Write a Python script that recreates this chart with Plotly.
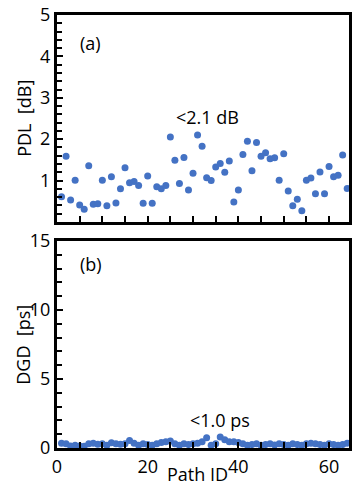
import plotly.graph_objects as go
from plotly.subplots import make_subplots

path_id = list(range(1, 65))
pdl = [0.61, 1.59, 0.53, 1.01, 0.41, 0.31, 1.36, 0.43, 0.44, 1.01,
       0.39, 1.09, 0.46, 0.80, 1.31, 0.95, 0.98, 0.88, 0.45, 1.11,
       0.45, 0.85, 0.80, 0.88, 2.05, 1.49, 0.93, 1.56, 0.77, 1.18,
       2.10, 1.83, 1.07, 1.00, 1.33, 1.41, 1.20, 1.47, 0.48, 0.77,
       1.63, 1.95, 1.24, 1.92, 1.59, 1.67, 1.53, 1.55, 1.01, 1.65,
       0.75, 0.39, 0.55, 0.27, 1.01, 1.06, 0.68, 1.21, 0.68, 1.34,
       1.09, 1.13, 1.62, 0.81]
dgd = [0.35, 0.30, 0.15, 0.20, 0.15, 0.12, 0.30, 0.35, 0.28, 0.30,
       0.20, 0.38, 0.30, 0.28, 0.30, 0.55, 0.35, 0.20, 0.30, 0.25,
       0.20, 0.30, 0.40, 0.45, 0.50, 0.30, 0.20, 0.30, 0.25, 0.30,
       0.35, 0.45, 0.75, 0.20, 0.30, 0.80, 0.60, 0.45, 0.45, 0.40,
       0.30, 0.20, 0.25, 0.30, 0.20, 0.25, 0.30, 0.22, 0.30, 0.25,
       0.20, 0.30, 0.25, 0.20, 0.30, 0.35, 0.30, 0.25, 0.20, 0.30,
       0.25, 0.20, 0.25, 0.35]

x_ticks = [0, 20, 40, 60]
pdl_ticks = [1, 2, 3, 4, 5]
dgd_ticks = [0, 5, 10, 15]

FONT = "Open Sans"
BLUE = "#4472C4"

fig = make_subplots(rows=2, cols=1, vertical_spacing=0.044)
fig.add_trace(go.Scatter(x=path_id, y=pdl, mode="markers",
                         marker=dict(color=BLUE, size=7)), row=1, col=1)
fig.add_trace(go.Scatter(x=path_id, y=dgd, mode="markers",
                         marker=dict(color=BLUE, size=7)), row=2, col=1)

axis_common = dict(showline=True, linecolor="black", linewidth=3, mirror=True,
                   showgrid=False, zeroline=False, ticks="inside", ticklen=6,
                   tickwidth=2, tickcolor="black",
                   tickfont=dict(family=FONT, size=18, color="black"))

fig.update_xaxes(range=[0, 64.4], tickvals=x_ticks,
                 minor=dict(dtick=5, tick0=0, ticks="inside", ticklen=6,
                            tickwidth=2, tickcolor="black"),
                 **axis_common)
fig.update_xaxes(showticklabels=False, row=1, col=1)
fig.update_yaxes(range=[0, 5], tickvals=pdl_ticks,
                 minor=dict(dtick=0.2, tick0=0, ticks="inside", ticklen=5,
                            tickwidth=2, tickcolor="black"),
                 row=1, col=1, **axis_common)
fig.update_yaxes(range=[0, 15], tickvals=dgd_ticks,
                 minor=dict(dtick=1, tick0=0, ticks="inside", ticklen=5,
                            tickwidth=2, tickcolor="black"),
                 row=2, col=1, **axis_common)

ann_font = dict(family=FONT, size=18, color="black")
fig.add_annotation(x=7.4, y=4.32, xref="x", yref="y", text="(a)",
                   showarrow=False, font=ann_font)
fig.add_annotation(x=33.1, y=2.54, xref="x", yref="y", text="<2.1 dB",
                   showarrow=False, font=ann_font)
fig.add_annotation(x=7.5, y=13.3, xref="x2", yref="y2", text="(b)",
                   showarrow=False, font=ann_font)
fig.add_annotation(x=36.0, y=2.0, xref="x2", yref="y2", text="<1.0 ps",
                   showarrow=False, font=ann_font)
fig.add_annotation(x=-0.112, y=0.761, xref="paper", yref="paper",
                   xanchor="center", yanchor="middle",
                   text="PDL  [dB]", textangle=-90, showarrow=False,
                   font=ann_font)
fig.add_annotation(x=-0.119, y=0.239, xref="paper", yref="paper",
                   xanchor="center", yanchor="middle",
                   text="DGD  [ps]", textangle=-90, showarrow=False,
                   font=ann_font)
fig.add_annotation(x=0.48, y=-0.059, xref="paper", yref="paper",
                   xanchor="center", yanchor="middle",
                   text="Path ID", showarrow=False, font=ann_font)

fig.update_layout(width=354, height=487, showlegend=False,
                  margin=dict(l=57, r=2, t=15, b=39),
                  paper_bgcolor="white", plot_bgcolor="white",
                  font=dict(family=FONT, size=18, color="black"))

fig.write_html("out.html")
